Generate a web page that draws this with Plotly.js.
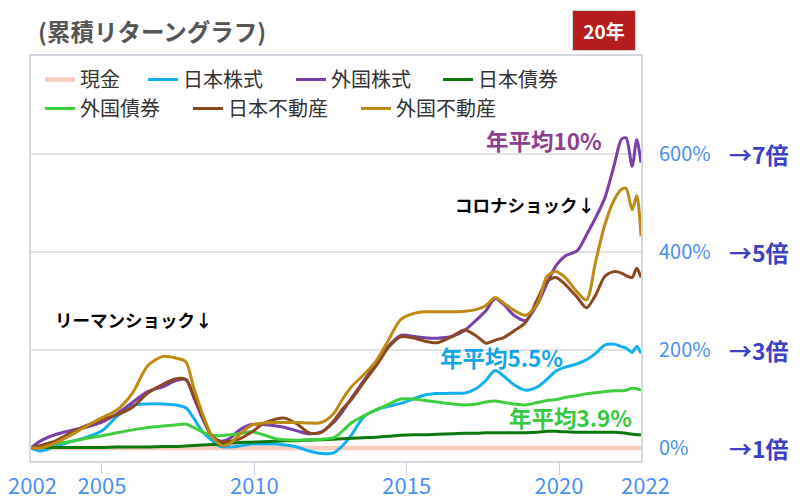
<!DOCTYPE html>
<html><head><meta charset="utf-8">
<script src="https://cdn.plot.ly/plotly-3.0.1.min.js"></script>
<style>html,body{margin:0;padding:0;background:#fff}#chart{width:810px;height:504px}</style>
</head><body><div id="chart"></div>
<script>
// ---- data (cumulative return %) ----
const years = [2002.67,2003.0,2003.5,2004.0,2004.5,2005.0,2005.5,2006.0,2006.5,2007.0,2007.4,2007.75,2008.0,2008.3,2008.6,2008.9,2009.2,2009.5,2009.9,2010.3,2010.7,2011.0,2011.4,2011.8,2012.2,2012.6,2012.9,2013.2,2013.6,2014.0,2014.4,2014.8,2015.2,2015.6,2016.0,2016.5,2016.9,2017.3,2017.6,2017.9,2018.2,2018.5,2018.9,2019.3,2019.6,2019.9,2020.2,2020.6,2020.9,2021.2,2021.5,2021.8,2022.05,2022.2,2022.4,2022.55,2022.69];
const cash      = [0,0,0,0,0,0,0,0,0,0,0,0,0,0,0,0,0,0,0,0,0,0,0,0,0,0,0,0,0,0,0,0,0,0,0,0,0,0,0,0,0,0,0,0,0,0,0,0,0,0,0,0,0,0,0,0,0];
const jpStock   = [0,-6,4,13,22,35,65,87,90,90,88,82,62,33,16,3,2,4,8,8,8,6,2,-6,-11,-10,5,28,64,78,85,91,100,108,111,112,112,122,138,158,146,130,118,125,140,157,165,172,180,193,210,212,207,204,195,207,193];
const intlStock = [0,15,28,36,43,53,70,93,115,125,137,140,105,60,25,14,20,36,48,48,45,42,35,29,33,52,75,103,138,174,208,230,228,225,224,228,240,262,280,305,292,272,260,295,335,372,392,403,435,470,510,575,630,633,575,629,582];
const jpBond    = [0,1,1,1,1,1,2,2,2,3,3,4,5,6,7,8,10,11,12,13,14,15,15,16,17,18,19,20,21,22,24,26,27,27,28,29,30,30,31,31,31,31,31,32,34,34,33,32,32,32,32,32,31,30,28,27,27];
const intlBond  = [0,4,9,14,20,25,31,37,42,45,47,49,42,33,26,25,27,29,33,27,19,17,16,17,18,21,35,52,66,78,89,100,100,97,94,90,88,90,94,96,93,90,88,93,97,99,103,107,111,113,115,117,117,118,122,121,118];
const jpReit    = [0,5,15,32,46,58,68,83,112,130,141,140,108,65,25,13,14,18,32,50,59,61,49,31,32,55,80,100,135,168,205,227,225,218,215,228,241,228,214,220,226,238,256,305,340,348,334,307,286,312,350,360,357,352,348,367,348];
const intlReit  = [0,0,11,27,45,62,78,112,168,187,184,176,125,70,25,6,9,27,46,51,52,52,52,51,52,70,100,126,150,178,220,262,274,278,278,278,279,283,291,307,295,282,271,295,350,360,348,318,302,380,455,505,528,530,486,515,432];

const seriesNames = ['現金','日本株式','外国株式','日本債券','外国債券','日本不動産','外国不動産'];
const xTickVals = [2005, 2010, 2015, 2020];
const xTickLabels = ['2002','2005','2010','2015','2020','2022'];
const yTickVals = [0, 200, 400, 600];
const yTickLabels = ['0%','200%','400%','600%'];
const multiplierLabels = ['→1倍','→3倍','→5倍','→7倍'];
const chartTitle = '(累積リターングラフ)';
const periodLabel = '20年';
const notes = [
  {text:'年平均10%',   x:2019.5,  y:629, color:'#8b4190', size:22.5},
  {text:'コロナショック↓', x:2018.88, y:496, color:'#000000', size:17.5},
  {text:'リーマンショック↓', x:2006.04, y:262, color:'#000000', size:17.5},
  {text:'年平均5.5%',  x:2018.12, y:186, color:'#13a5e5', size:22.5},
  {text:'年平均3.9%',  x:2020.37, y:63,  color:'#35c93f', size:22.5}
];

// ---- styling ----
const allSeries = [cash, jpStock, intlStock, jpBond, intlBond, jpReit, intlReit];
const colors = ['#f9cbbd','#10b0ee','#7a3ea8','#0b7a0b','#3ecf3e','#8a4a1e','#bf8a13'];
const legendWidths = [58, 103, 102, 90, 103, 123, 110];
const FONT = '"Noto Sans CJK JP", "Noto Sans", sans-serif';
const X0 = 2002.67, X1 = 2022.69;
const plotL = 31, plotR = 641, plotT = 56, plotB = 461;
const px2paperX = p => (p - plotL) / (plotR - plotL);
const px2paperY = p => (plotB - p) / (plotB - plotT);

const data = allSeries.map((vals, i) => ({
  x: years, y: vals, type: 'scatter', mode: 'lines', name: seriesNames[i],
  line: {color: colors[i], width: i === 0 ? 4.5 : 3, shape: 'spline', smoothing: 0.8},
  legend: i < 4 ? 'legend' : 'legend2',
  legendwidth: legendWidths[i],
  hoverinfo: 'skip'
}));

const annotations = [];
notes.forEach(n => annotations.push({
  text: n.text, x: n.x, y: n.y, xref: 'x', yref: 'y', showarrow: false,
  xanchor: 'center', yanchor: 'middle',
  font: {family: FONT, size: n.size, color: n.color, weight: 'bold'}
}));
yTickVals.forEach((v, i) => annotations.push({
  text: multiplierLabels[i], x: px2paperX(727), xref: 'paper', y: v, yref: 'y',
  xanchor: 'left', yanchor: 'middle', showarrow: false,
  font: {family: FONT, size: 23, color: '#3d40c4', weight: 'bold'}
}));
[[0, 32], [5, 645]].forEach(([idx, p]) => annotations.push({
  text: xTickLabels[idx], x: px2paperX(p), xref: 'paper', y: px2paperY(484), yref: 'paper',
  xanchor: 'center', yanchor: 'middle', showarrow: false,
  font: {family: FONT, size: 22, color: '#4a90f0'}
}));
annotations.push({
  text: '<b>' + periodLabel + '</b>', x: px2paperX(603.5), xref: 'paper', y: px2paperY(30.5), yref: 'paper',
  xanchor: 'center', yanchor: 'middle', showarrow: false,
  width: 62, height: 39, bgcolor: '#b71c1c', bordercolor: '#d6d6d6', borderwidth: 1, borderpad: 0,
  font: {family: FONT, size: 19, color: '#ffffff'}
});

const legendBase = {
  orientation: 'h', xanchor: 'left', yanchor: 'top', bgcolor: 'rgba(0,0,0,0)',
  font: {family: FONT, size: 20, color: '#333'}, itemwidth: 30
};

const layout = {
  width: 810, height: 504,
  margin: {l: plotL, r: 810 - plotR, t: plotT, b: 504 - plotB},
  paper_bgcolor: '#ffffff', plot_bgcolor: '#ffffff',
  font: {family: FONT, size: 20, color: '#333'},
  title: {text: chartTitle, xref: 'container', x: 38 / 810, xanchor: 'left', yref: 'container', y: 1 - 33 / 504, yanchor: 'middle',
          font: {family: FONT, size: 23.5, color: '#555555', weight: 'bold'}},
  showlegend: true,
  legend: Object.assign({}, legendBase, {x: px2paperX(40), y: px2paperY(60)}),
  legend2: Object.assign({}, legendBase, {x: px2paperX(40), y: px2paperY(89)}),
  xaxis: {range: [X0, X1], tickvals: xTickVals, ticktext: xTickLabels.slice(1, 5),
          ticks: 'outside', ticklen: 12, tickcolor: '#c9d4e2', tickwidth: 1, ticklabelstandoff: -7,
          showgrid: false, zeroline: false, showline: true, mirror: true, linecolor: '#d3d9e1', linewidth: 2,
          tickfont: {family: FONT, size: 22, color: '#4a90f0'}, fixedrange: true},
  yaxis: {range: [-26.5, 800], side: 'right', tickvals: yTickVals, ticktext: yTickLabels,
          showgrid: true, gridcolor: '#e3e3e3', gridwidth: 2, zeroline: false,
          showline: true, mirror: true, linecolor: '#d3d9e1', linewidth: 2, ticks: '', ticklabelstandoff: 12,
          tickfont: {family: FONT, size: 20, color: '#4a90f0'}, fixedrange: true},
  annotations: annotations
};

Plotly.newPlot('chart', data, layout, {displayModeBar: false, staticPlot: true});
</script>
</body></html>
